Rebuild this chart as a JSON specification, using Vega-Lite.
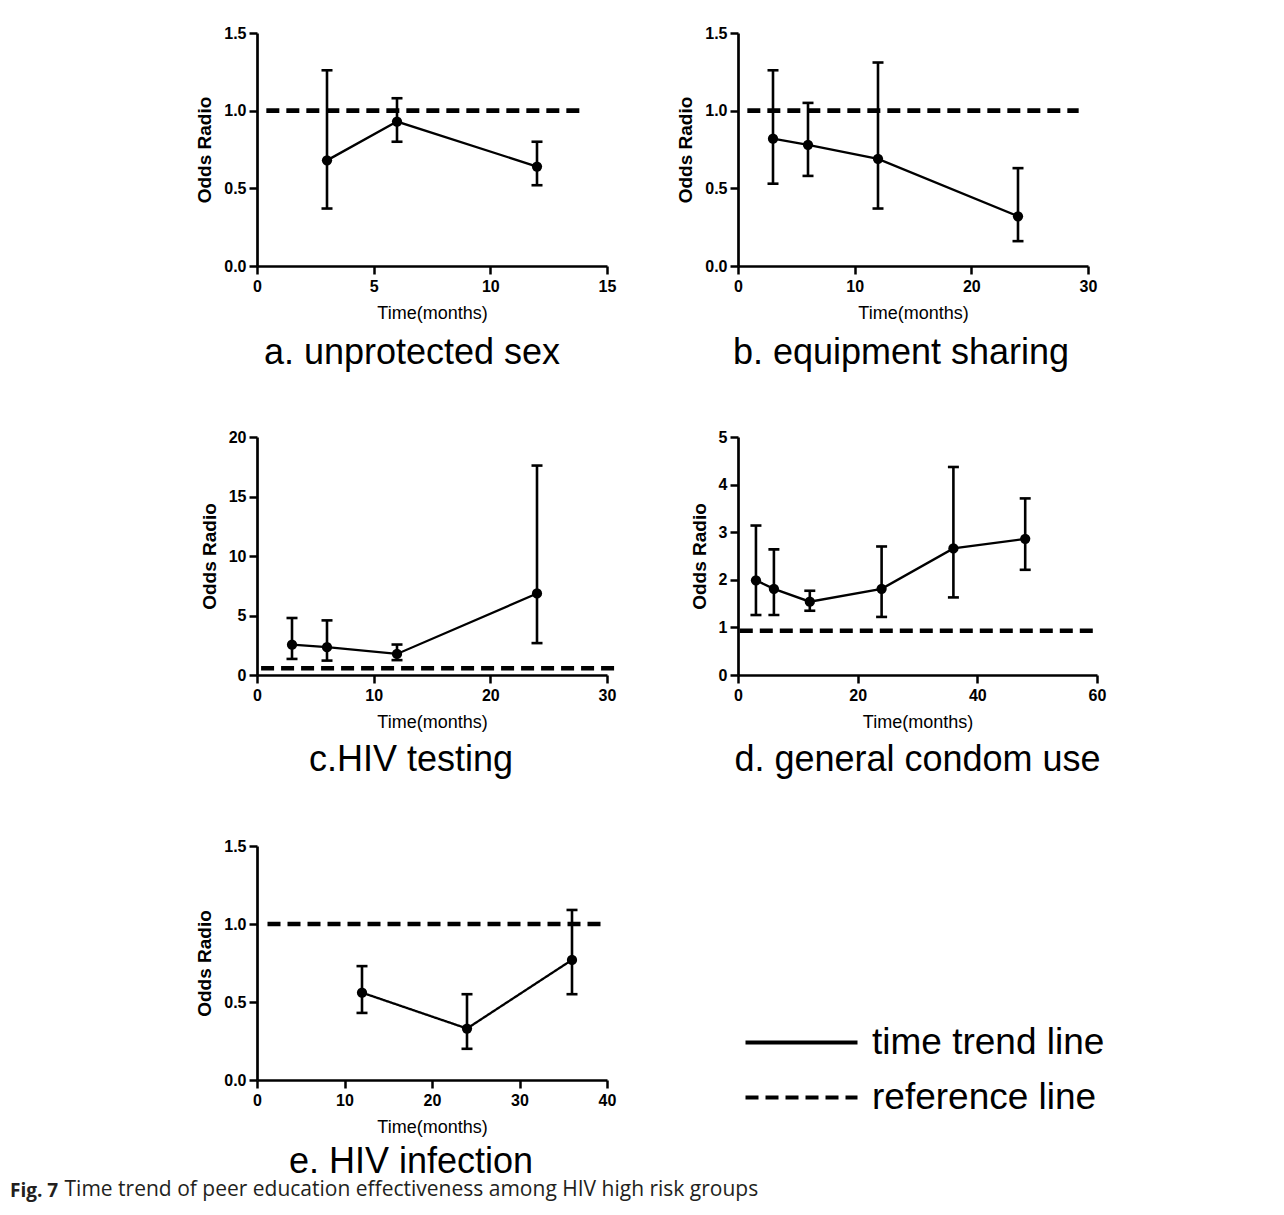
{
  "$schema": "https://vega.github.io/schema/vega-lite/v6.json",
  "background": "white",
  "padding": {"left": 10, "top": 25, "right": 5, "bottom": 5},
  "title": {
    "text": "Fig. 7",
    "subtitle": "\u200b\u00a0\u00a0\u00a0\u00a0\u00a0\u00a0\u00a0\u00a0\u00a0\u00a0Time trend of peer education effectiveness among HIV high risk groups",
    "orient": "bottom", "anchor": "start", "frame": "group", "dx": -247, "offset": 2,
    "font": "Open Sans", "fontSize": 19, "fontWeight": "bold", "color": "#231f20",
    "subtitleFont": "Open Sans", "subtitleFontSize": 21, "subtitleColor": "#231f20", "subtitleFontWeight": "normal", "subtitlePadding": -22
  },
  "columns": 2,
  "spacing": {"row": 171, "column": 131},
  "bounds": "flush",
  "concat": [
    {
      "width": 350, "height": 233,
      "title": {"text": "a. unprotected sex", "dx": -20, "offset": 14},
      "data": {"values": [
        {"t": 3, "or": 0.68, "lo": 0.37, "hi": 1.26},
        {"t": 6, "or": 0.93, "lo": 0.80, "hi": 1.08},
        {"t": 12, "or": 0.64, "lo": 0.52, "hi": 0.80}
      ]},
      "layer": [
        {"mark": {"type": "rule", "color": "black", "strokeWidth": 2.6},
         "encoding": {
           "x": {"field": "t", "type": "quantitative", "title": "Time(months)", "scale": {"domain": [0, 15], "nice": false}, "axis": {"values": [0, 5, 10, 15]}},
           "y": {"field": "lo", "type": "quantitative", "title": "Odds Radio", "scale": {"domain": [0, 1.5], "nice": false}, "axis": {"values": [0, 0.5, 1, 1.5], "format": ".1f"}},
           "y2": {"field": "hi"}}},
        {"mark": {"type": "tick", "orient": "horizontal", "color": "black", "opacity": 1, "size": 11, "thickness": 2.6},
         "encoding": {"x": {"field": "t", "type": "quantitative", "title": "Time(months)"}, "y": {"field": "lo", "type": "quantitative", "title": "Odds Radio"}}},
        {"mark": {"type": "tick", "orient": "horizontal", "color": "black", "opacity": 1, "size": 11, "thickness": 2.6},
         "encoding": {"x": {"field": "t", "type": "quantitative", "title": "Time(months)"}, "y": {"field": "hi", "type": "quantitative", "title": "Odds Radio"}}},
        {"mark": {"type": "line", "color": "black", "strokeWidth": 2.3},
         "encoding": {"x": {"field": "t", "type": "quantitative", "title": "Time(months)"}, "y": {"field": "or", "type": "quantitative", "title": "Odds Radio"}}},
        {"mark": {"type": "circle", "color": "black", "opacity": 1, "size": 105},
         "encoding": {"x": {"field": "t", "type": "quantitative", "title": "Time(months)"}, "y": {"field": "or", "type": "quantitative", "title": "Odds Radio"}}},
        {"data": {"values": [{"t0": 0.4, "t1": 14.1, "ref": 1.0}]},
         "mark": {"type": "rule", "color": "black", "strokeWidth": 4.6, "strokeDash": [13, 7]},
         "encoding": {"x": {"field": "t0", "type": "quantitative", "title": "Time(months)"}, "x2": {"field": "t1"}, "y": {"field": "ref", "type": "quantitative", "title": "Odds Radio"}}}
      ]
    },
    {
      "width": 350, "height": 233,
      "title": {"text": "b. equipment sharing", "dx": -12, "offset": 14},
      "data": {"values": [
        {"t": 3, "or": 0.82, "lo": 0.53, "hi": 1.26},
        {"t": 6, "or": 0.78, "lo": 0.58, "hi": 1.05},
        {"t": 12, "or": 0.69, "lo": 0.37, "hi": 1.31},
        {"t": 24, "or": 0.32, "lo": 0.16, "hi": 0.63}
      ]},
      "layer": [
        {"mark": {"type": "rule", "color": "black", "strokeWidth": 2.6},
         "encoding": {
           "x": {"field": "t", "type": "quantitative", "title": "Time(months)", "scale": {"domain": [0, 30], "nice": false}, "axis": {"values": [0, 10, 20, 30]}},
           "y": {"field": "lo", "type": "quantitative", "title": "Odds Radio", "scale": {"domain": [0, 1.5], "nice": false}, "axis": {"values": [0, 0.5, 1, 1.5], "format": ".1f"}},
           "y2": {"field": "hi"}}},
        {"mark": {"type": "tick", "orient": "horizontal", "color": "black", "opacity": 1, "size": 11, "thickness": 2.6},
         "encoding": {"x": {"field": "t", "type": "quantitative", "title": "Time(months)"}, "y": {"field": "lo", "type": "quantitative", "title": "Odds Radio"}}},
        {"mark": {"type": "tick", "orient": "horizontal", "color": "black", "opacity": 1, "size": 11, "thickness": 2.6},
         "encoding": {"x": {"field": "t", "type": "quantitative", "title": "Time(months)"}, "y": {"field": "hi", "type": "quantitative", "title": "Odds Radio"}}},
        {"mark": {"type": "line", "color": "black", "strokeWidth": 2.3},
         "encoding": {"x": {"field": "t", "type": "quantitative", "title": "Time(months)"}, "y": {"field": "or", "type": "quantitative", "title": "Odds Radio"}}},
        {"mark": {"type": "circle", "color": "black", "opacity": 1, "size": 105},
         "encoding": {"x": {"field": "t", "type": "quantitative", "title": "Time(months)"}, "y": {"field": "or", "type": "quantitative", "title": "Odds Radio"}}},
        {"data": {"values": [{"t0": 0.8, "t1": 29.2, "ref": 1.0}]},
         "mark": {"type": "rule", "color": "black", "strokeWidth": 4.6, "strokeDash": [13, 7]},
         "encoding": {"x": {"field": "t0", "type": "quantitative", "title": "Time(months)"}, "x2": {"field": "t1"}, "y": {"field": "ref", "type": "quantitative", "title": "Odds Radio"}}}
      ]
    },
    {
      "width": 350, "height": 238,
      "title": {"text": "c.HIV testing", "dx": -21, "offset": 12},
      "data": {"values": [
        {"t": 3, "or": 2.55, "lo": 1.35, "hi": 4.79},
        {"t": 6, "or": 2.34, "lo": 1.21, "hi": 4.59},
        {"t": 12, "or": 1.77, "lo": 1.25, "hi": 2.56},
        {"t": 24, "or": 6.85, "lo": 2.68, "hi": 17.6}
      ]},
      "layer": [
        {"mark": {"type": "rule", "color": "black", "strokeWidth": 2.6},
         "encoding": {
           "x": {"field": "t", "type": "quantitative", "title": "Time(months)", "scale": {"domain": [0, 30], "nice": false}, "axis": {"values": [0, 10, 20, 30]}},
           "y": {"field": "lo", "type": "quantitative", "title": "Odds Radio", "scale": {"domain": [0, 20], "nice": false}, "axis": {"values": [0, 5, 10, 15, 20]}},
           "y2": {"field": "hi"}}},
        {"mark": {"type": "tick", "orient": "horizontal", "color": "black", "opacity": 1, "size": 11, "thickness": 2.6},
         "encoding": {"x": {"field": "t", "type": "quantitative", "title": "Time(months)"}, "y": {"field": "lo", "type": "quantitative", "title": "Odds Radio"}}},
        {"mark": {"type": "tick", "orient": "horizontal", "color": "black", "opacity": 1, "size": 11, "thickness": 2.6},
         "encoding": {"x": {"field": "t", "type": "quantitative", "title": "Time(months)"}, "y": {"field": "hi", "type": "quantitative", "title": "Odds Radio"}}},
        {"mark": {"type": "line", "color": "black", "strokeWidth": 2.3},
         "encoding": {"x": {"field": "t", "type": "quantitative", "title": "Time(months)"}, "y": {"field": "or", "type": "quantitative", "title": "Odds Radio"}}},
        {"mark": {"type": "circle", "color": "black", "opacity": 1, "size": 105},
         "encoding": {"x": {"field": "t", "type": "quantitative", "title": "Time(months)"}, "y": {"field": "or", "type": "quantitative", "title": "Odds Radio"}}},
        {"data": {"values": [{"t0": 0.35, "t1": 30.9, "ref": 0.57}]},
         "mark": {"type": "rule", "color": "black", "strokeWidth": 4.6, "strokeDash": [13, 7]},
         "encoding": {"x": {"field": "t0", "type": "quantitative", "title": "Time(months)"}, "x2": {"field": "t1"}, "y": {"field": "ref", "type": "quantitative", "title": "Odds Radio"}}}
      ]
    },
    {
      "width": 359, "height": 238,
      "title": {"text": "d. general condom use", "dx": 0, "offset": 12},
      "data": {"values": [
        {"t": 3, "or": 1.99, "lo": 1.26, "hi": 3.14},
        {"t": 6, "or": 1.81, "lo": 1.26, "hi": 2.64},
        {"t": 12, "or": 1.54, "lo": 1.35, "hi": 1.77},
        {"t": 24, "or": 1.81, "lo": 1.22, "hi": 2.70},
        {"t": 36, "or": 2.66, "lo": 1.63, "hi": 4.37},
        {"t": 48, "or": 2.86, "lo": 2.21, "hi": 3.71}
      ]},
      "layer": [
        {"mark": {"type": "rule", "color": "black", "strokeWidth": 2.6},
         "encoding": {
           "x": {"field": "t", "type": "quantitative", "title": "Time(months)", "scale": {"domain": [0, 60], "nice": false}, "axis": {"values": [0, 20, 40, 60]}},
           "y": {"field": "lo", "type": "quantitative", "title": "Odds Radio", "scale": {"domain": [0, 5], "nice": false}, "axis": {"values": [0, 1, 2, 3, 4, 5]}},
           "y2": {"field": "hi"}}},
        {"mark": {"type": "tick", "orient": "horizontal", "color": "black", "opacity": 1, "size": 11, "thickness": 2.6},
         "encoding": {"x": {"field": "t", "type": "quantitative", "title": "Time(months)"}, "y": {"field": "lo", "type": "quantitative", "title": "Odds Radio"}}},
        {"mark": {"type": "tick", "orient": "horizontal", "color": "black", "opacity": 1, "size": 11, "thickness": 2.6},
         "encoding": {"x": {"field": "t", "type": "quantitative", "title": "Time(months)"}, "y": {"field": "hi", "type": "quantitative", "title": "Odds Radio"}}},
        {"mark": {"type": "line", "color": "black", "strokeWidth": 2.3},
         "encoding": {"x": {"field": "t", "type": "quantitative", "title": "Time(months)"}, "y": {"field": "or", "type": "quantitative", "title": "Odds Radio"}}},
        {"mark": {"type": "circle", "color": "black", "opacity": 1, "size": 105},
         "encoding": {"x": {"field": "t", "type": "quantitative", "title": "Time(months)"}, "y": {"field": "or", "type": "quantitative", "title": "Odds Radio"}}},
        {"data": {"values": [{"t0": 0.3, "t1": 60.3, "ref": 0.93}]},
         "mark": {"type": "rule", "color": "black", "strokeWidth": 4.6, "strokeDash": [13, 7]},
         "encoding": {"x": {"field": "t0", "type": "quantitative", "title": "Time(months)"}, "x2": {"field": "t1"}, "y": {"field": "ref", "type": "quantitative", "title": "Odds Radio"}}}
      ]
    },
    {
      "width": 350, "height": 234,
      "title": {"text": "e. HIV infection", "dx": -21, "offset": 9},
      "data": {"values": [
        {"t": 12, "or": 0.56, "lo": 0.43, "hi": 0.73},
        {"t": 24, "or": 0.33, "lo": 0.20, "hi": 0.55},
        {"t": 36, "or": 0.77, "lo": 0.55, "hi": 1.09}
      ]},
      "layer": [
        {"mark": {"type": "rule", "color": "black", "strokeWidth": 2.6},
         "encoding": {
           "x": {"field": "t", "type": "quantitative", "title": "Time(months)", "scale": {"domain": [0, 40], "nice": false}, "axis": {"values": [0, 10, 20, 30, 40]}},
           "y": {"field": "lo", "type": "quantitative", "title": "Odds Radio", "scale": {"domain": [0, 1.5], "nice": false}, "axis": {"values": [0, 0.5, 1, 1.5], "format": ".1f"}},
           "y2": {"field": "hi"}}},
        {"mark": {"type": "tick", "orient": "horizontal", "color": "black", "opacity": 1, "size": 11, "thickness": 2.6},
         "encoding": {"x": {"field": "t", "type": "quantitative", "title": "Time(months)"}, "y": {"field": "lo", "type": "quantitative", "title": "Odds Radio"}}},
        {"mark": {"type": "tick", "orient": "horizontal", "color": "black", "opacity": 1, "size": 11, "thickness": 2.6},
         "encoding": {"x": {"field": "t", "type": "quantitative", "title": "Time(months)"}, "y": {"field": "hi", "type": "quantitative", "title": "Odds Radio"}}},
        {"mark": {"type": "line", "color": "black", "strokeWidth": 2.3},
         "encoding": {
           "x": {"field": "t", "type": "quantitative", "title": "Time(months)"},
           "y": {"field": "or", "type": "quantitative", "title": "Odds Radio"},
           "strokeDash": {"datum": "time trend line", "type": "nominal",
             "scale": {"domain": ["time trend line", "reference line"], "range": [[1, 0], [13, 7]]},
             "legend": {"orient": "none", "legendX": 526, "legendY": 178, "title": null,
               "symbolType": "M-4,0H4", "symbolSize": 784, "symbolStrokeWidth": 4, "symbolStrokeColor": "black",
               "labelFontSize": 37, "labelFont": "Liberation Sans", "labelColor": "black", "labelOffset": 52,
               "rowPadding": 17, "padding": 0, "labelLimit": 400}}}},
        {"mark": {"type": "circle", "color": "black", "opacity": 1, "size": 105},
         "encoding": {"x": {"field": "t", "type": "quantitative", "title": "Time(months)"}, "y": {"field": "or", "type": "quantitative", "title": "Odds Radio"}}},
        {"data": {"values": [{"t0": 1.2, "t1": 39.7, "ref": 1.0}]},
         "mark": {"type": "rule", "color": "black", "strokeWidth": 4.6},
         "encoding": {"x": {"field": "t0", "type": "quantitative", "title": "Time(months)"}, "x2": {"field": "t1"}, "y": {"field": "ref", "type": "quantitative", "title": "Odds Radio"},
           "strokeDash": {"datum": "reference line", "type": "nominal"}}}
      ]
    }
  ],
  "resolve": {"scale": {"strokeDash": "independent"}, "legend": {"strokeDash": "independent"}},
  "config": {
    "view": {"stroke": null},
    "font": "Liberation Sans",
    "axis": {"grid": false, "domainColor": "black", "domainWidth": 2.7, "tickColor": "black", "tickWidth": 2.5, "tickSize": 8,
             "labelColor": "black", "labelFont": "Liberation Sans", "labelFontWeight": "bold", "labelFontSize": 16,
             "titleColor": "black", "titleFont": "Liberation Sans", "titleFontSize": 18, "labelFlush": false, "labelOverlap": false},
    "axisX": {"labelPadding": 4, "titlePadding": 10, "titleFontWeight": "normal"},
    "axisY": {"labelPadding": 3, "titlePadding": 9, "titleFontWeight": "bold", "titleFontSize": 19},
    "title": {"font": "Liberation Sans", "fontSize": 36, "fontWeight": "normal", "color": "black", "orient": "bottom", "frame": "group", "anchor": "middle", "offset": 11}
  }
}
